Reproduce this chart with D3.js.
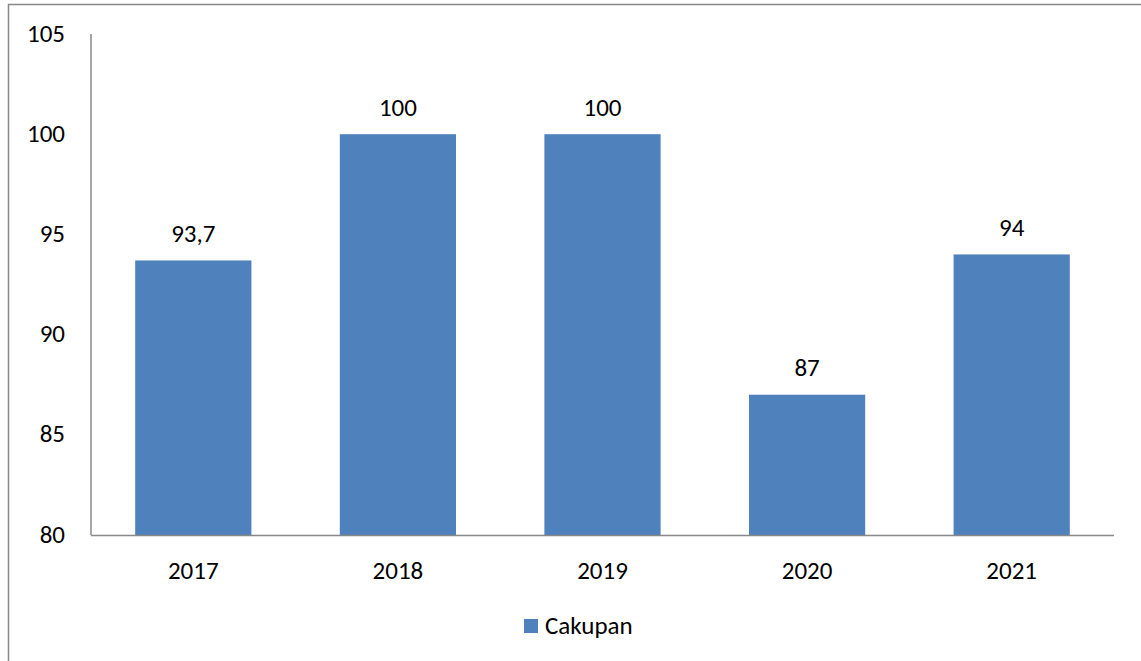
<!DOCTYPE html>
<html><head><meta charset="utf-8">
<script src="https://cdn.jsdelivr.net/npm/d3@7"></script>
<style>body{margin:0;background:#fff;}svg{display:block;}text{font-family:Carlito,"Liberation Sans","Noto Sans",sans-serif;fill:#000;}</style>
</head><body>
<svg id="c" width="1141" height="661"></svg>
<script>
const categories = ["2017","2018","2019","2020","2021"];
const values = [93.7, 100, 100, 87, 94];
const labels = ["93,7","100","100","87","94"];
const yTicks = [80,85,90,95,100,105];
const seriesName = "Cakupan";

const svg = d3.select("#c");
const color = "#4F81BD";
// outer border
svg.append("rect").attr("x",8.5).attr("y",4.5).attr("width",1200).attr("height",700)
  .attr("fill","none").attr("stroke","#888").attr("stroke-width",1.5);

const x = d3.scaleBand().domain(categories).range([91,1114]).paddingInner(0.432).paddingOuter(0.216);
const y = d3.scaleLinear().domain([80,105]).range([535,34]);

svg.selectAll("rect.bar").data(values).join("rect").attr("class","bar")
  .attr("x",(d,i)=>x(categories[i])).attr("width",x.bandwidth())
  .attr("y",d=>y(d)).attr("height",d=>y(80)-y(d)).attr("fill",color);

// axes lines
svg.append("line").attr("x1",91).attr("x2",91).attr("y1",y(105)).attr("y2",y(80)).attr("stroke","#888").attr("stroke-width",1.5);
svg.append("line").attr("x1",91).attr("x2",1114).attr("y1",y(80)+0.5).attr("y2",y(80)+0.5).attr("stroke","#888").attr("stroke-width",1.5);

const fs = 25;
svg.selectAll("text.yt").data(yTicks).join("text").attr("class","yt")
  .attr("x",65).attr("y",d=>y(d)+7.5).attr("text-anchor","end").attr("font-size",fs).text(d=>d);

svg.selectAll("text.xt").data(categories).join("text").attr("class","xt")
  .attr("x",d=>x(d)+x.bandwidth()/2).attr("y",578.5).attr("text-anchor","middle").attr("font-size",fs).text(d=>d);

svg.selectAll("text.lbl").data(values).join("text").attr("class","lbl")
  .attr("x",(d,i)=>x(categories[i])+x.bandwidth()/2).attr("y",d=>y(d)-18.5).attr("text-anchor","middle").attr("font-size",fs)
  .text((d,i)=>labels[i]);

svg.append("rect").attr("x",524).attr("y",619).attr("width",14).attr("height",14).attr("fill",color);
svg.append("text").attr("x",545).attr("y",634).attr("font-size",fs).text(seriesName);
</script>
</body></html>
